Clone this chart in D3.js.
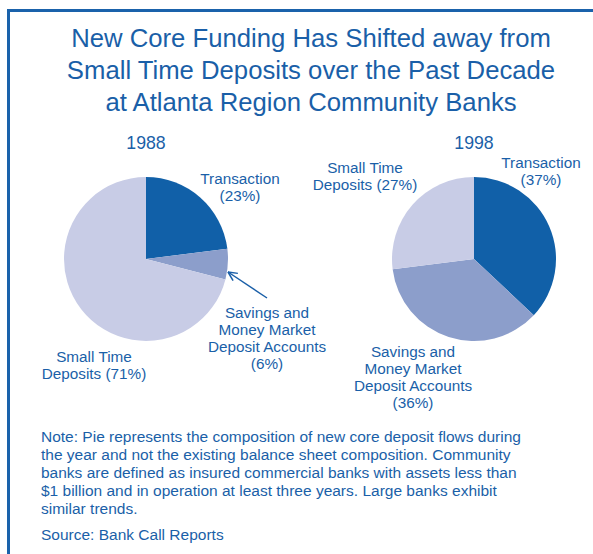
<!DOCTYPE html>
<html>
<head>
<meta charset="utf-8">
<script src="https://cdn.jsdelivr.net/npm/d3@7"></script>
<style>
  html, body { margin: 0; padding: 0; background: #fff; }
  svg { display: block; }
  text { font-family: "Liberation Sans", Arial, sans-serif; fill: #1a5fa8; }
</style>
</head>
<body>
<svg id="chart" width="593" height="554"></svg>
<script>
// Deposit categories and their share of new core deposit flows (%)
const categories = ["Transaction", "Savings and Money Market Deposit Accounts", "Small Time Deposits"];
const shares1988 = [23, 6, 71];
const shares1998 = [37, 36, 27];
const years = ["1988", "1998"];

const titleLines = [
  "New Core Funding Has Shifted away from",
  "Small Time Deposits over the Past Decade",
  "at Atlanta Region Community Banks"
];
const noteLines = [
  "Note: Pie represents the composition of new core deposit flows during",
  "the year and not the existing balance sheet composition. Community",
  "banks are defined as insured commercial banks with assets less than",
  "$1 billion and in operation at least three years. Large banks exhibit",
  "similar trends."
];
const sourceLine = "Source: Bank Call Reports";

const svg = d3.select("#chart");
const ink = "#1a5fa8";

const color = d3.scaleOrdinal()
  .domain(categories)
  .range(["#1160a8", "#8c9ecb", "#c8cce6"]);

// Frame
svg.append("path")
  .attr("d", "M8.5,600 V10.5 H600")
  .attr("fill", "none")
  .attr("stroke", "#1a62ab")
  .attr("stroke-width", 3);

// Title
svg.append("g").selectAll("text")
  .data(titleLines)
  .join("text")
  .attr("x", 311)
  .attr("y", (d, i) => 47 + i * 32)
  .attr("text-anchor", "middle")
  .attr("font-size", 25.7)
  .text(d => d);

const pie = d3.pie().sort(null).value(d => d.value);
const arc = d3.arc().innerRadius(0).outerRadius(82);

const pies = [
  { year: years[0], cx: 146, cy: 259, values: shares1988 },
  { year: years[1], cx: 474, cy: 259, values: shares1998 }
];

pies.forEach(p => {
  const g = svg.append("g").attr("transform", `translate(${p.cx},${p.cy})`);
  const data = categories.map((c, i) => ({ cat: c, value: p.values[i] }));
  g.selectAll("path")
    .data(pie(data))
    .join("path")
    .attr("d", arc)
    .attr("fill", d => color(d.data.cat));
  svg.append("text")
    .attr("x", p.cx)
    .attr("y", 149)
    .attr("text-anchor", "middle")
    .attr("font-size", 17.7)
    .text(p.year);
});

// Slice labels: lines of text centred at x, first baseline at y
function label(x, y, lines) {
  svg.append("g").selectAll("text")
    .data(lines)
    .join("text")
    .attr("x", x)
    .attr("y", (d, i) => y + i * 16.9)
    .attr("text-anchor", "middle")
    .attr("font-size", 15.3)
    .text(d => d);
}
const pct = v => `(${v}%)`;

label(240, 184, ["Transaction", pct(shares1988[0])]);
label(267, 318, ["Savings and", "Money Market", "Deposit Accounts", pct(shares1988[1])]);
label(94, 362, ["Small Time", "Deposits " + pct(shares1988[2])]);

label(365, 173, ["Small Time", "Deposits " + pct(shares1998[2])]);
label(541, 168, ["Transaction", pct(shares1998[0])]);
label(413, 357, ["Savings and", "Money Market", "Deposit Accounts", pct(shares1998[1])]);

// Pointer to the savings slice of 1988
const tip = [228, 272], tail = [267, 298];
const ang = Math.atan2(tail[1] - tip[1], tail[0] - tip[0]);
svg.append("line")
  .attr("x1", tail[0]).attr("y1", tail[1])
  .attr("x2", tip[0]).attr("y2", tip[1])
  .attr("stroke", ink).attr("stroke-width", 1.5);
[0.45, -0.45].forEach(da => {
  svg.append("line")
    .attr("x1", tip[0]).attr("y1", tip[1])
    .attr("x2", tip[0] + 10 * Math.cos(ang + da))
    .attr("y2", tip[1] + 10 * Math.sin(ang + da))
    .attr("stroke", ink).attr("stroke-width", 1.5);
});

// Notes
svg.append("g").selectAll("text")
  .data(noteLines)
  .join("text")
  .attr("x", 41)
  .attr("y", (d, i) => 442 + i * 18)
  .attr("font-size", 15.5)
  .text(d => d);
svg.append("text")
  .attr("x", 41)
  .attr("y", 540)
  .attr("font-size", 15.5)
  .text(sourceLine);
</script>
</body>
</html>
